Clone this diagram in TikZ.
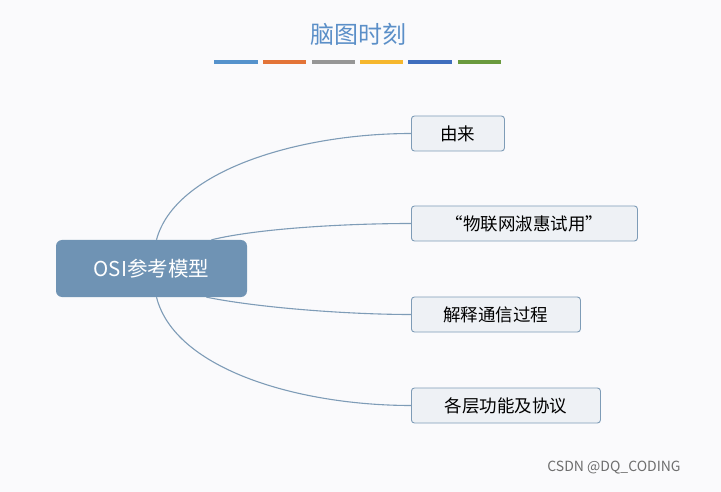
\documentclass[tikz,border=0pt]{standalone}
\usepackage{fontspec}
\setmainfont{Noto Sans CJK SC}
\begin{document}
\begin{tikzpicture}[x=1pt,y=-1pt,
  bar/.style={line width=4pt},
  child/.style={draw=linec,fill=boxf,rounded corners=3pt,line width=0.9pt,minimum height=35pt,inner xsep=12pt,font=\fontsize{17.5}{19}\selectfont,anchor=west},
  link/.style={draw=linec,line width=1.1pt}]
\definecolor{linec}{HTML}{7E9CB7}
\definecolor{boxf}{HTML}{EEF1F5}
\definecolor{rootf}{HTML}{6F93B4}
\definecolor{titc}{HTML}{5B8FC8}
\fill[fill={rgb,255:red,250;green,250;blue,252}] (0,0) rectangle (721,492);
\useasboundingbox (0,0) rectangle (721,492);
\node[text=titc,font=\fontsize{24}{26}\selectfont] (title) at (358,34) {脑图时刻};
\draw[bar,color={rgb,255:red,85;green,146;blue,204}] (214,62) -- (258,62);
\draw[bar,color={rgb,255:red,227;green,116;blue,56}] (263,62) -- (306,62);
\draw[bar,color={rgb,255:red,150;green,150;blue,150}] (312,62) -- (355,62);
\draw[bar,color={rgb,255:red,246;green,183;blue,45}] (360,62) -- (403,62);
\draw[bar,color={rgb,255:red,63;green,110;blue,190}] (408,62) -- (452,62);
\draw[bar,color={rgb,255:red,106;green,154;blue,62}] (458,62) -- (501,62);
\node[fill=rootf,rounded corners=6pt,minimum width=191pt,minimum height=57pt,text=white,font=\fontsize{20.5}{22}\selectfont] (root) at (151.5,268.5) {OSI参考模型};
\node[child,minimum width=93pt] (c1) at (411,133.5) {由来};
\node[child,minimum width=226pt] (c2) at (411,223.5) {“物联网淑惠试用”};
\node[child,minimum width=169pt] (c3) at (411,314.5) {解释通信过程};
\node[child,minimum width=189pt] (c4) at (411,405.5) {各层功能及协议};
\draw[link] ([xshift=5pt]root.north) .. controls (175,170) and (300,133.5) .. (c1.west);
\draw[link] ([xshift=60pt]root.north) .. controls (260,228) and (350,223.5) .. (c2.west);
\draw[link] ([xshift=55pt]root.south) .. controls (260,308) and (350,314.5) .. (c3.west);
\draw[link] ([xshift=5pt]root.south) .. controls (175,370) and (300,405.5) .. (c4.west);
\node[text={rgb,255:red,110;green,110;blue,110},font=\fontsize{14}{16}\selectfont] (wm) at (614,468) {CSDN @DQ\_CODING};
\end{tikzpicture}
\end{document}
